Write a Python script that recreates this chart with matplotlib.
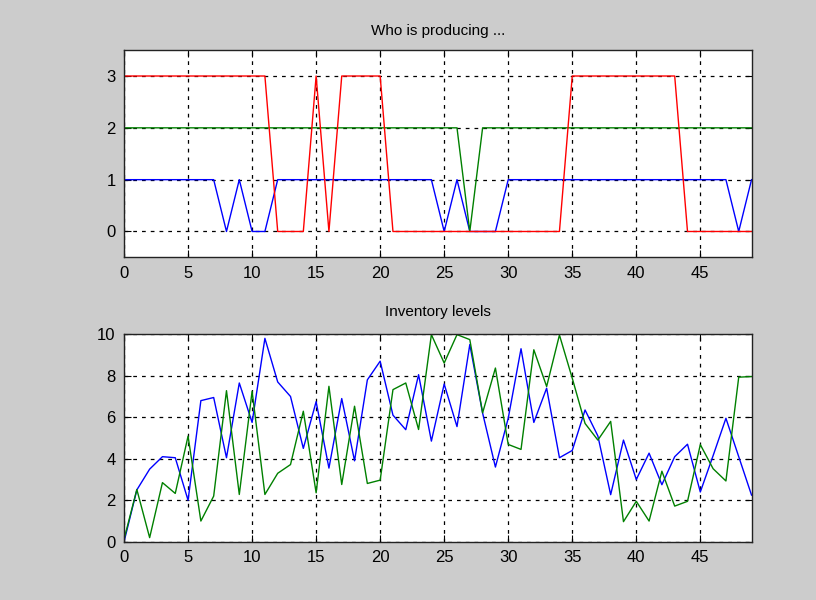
import matplotlib
matplotlib.use('Agg')
import matplotlib.pyplot as plt
import numpy as np

t = np.arange(50)

# who is producing (0 = nobody, 1/2/3 = machine id)
prod1 = [1,1,1,1,1,1,1,1,0,1, 0,0,1,1,1,1,1,1,1,1, 1,1,1,1,1,0,1,0,0,0,
         1,1,1,1,1,1,1,1,1,1, 1,1,1,1,1,1,1,1,0,1]
prod2 = [2]*27 + [0] + [2]*22
prod3 = [3]*12 + [0,0,0,3,0,3,3,3,3] + [0]*14 + [3]*9 + [0]*6

# inventory levels
inv1 = [0,2.5,3.5,4.1,4.05,2.0,6.8,6.95,4.05,7.65,
        5.75,9.8,7.7,7.0,4.5,6.75,3.55,6.9,3.9,7.8,
        8.7,6.1,5.4,8.05,4.85,7.6,5.55,9.5,6.2,3.6,
        5.95,9.3,5.75,7.4,4.05,4.4,6.35,5.1,2.27,4.9,
        3.0,4.27,2.75,4.1,4.7,2.4,4.15,5.95,4.1,2.25]
inv2 = [0.12,2.52,0.2,2.85,2.33,5.09,1.0,2.2,7.28,2.28,
        7.25,2.28,3.3,3.72,6.29,2.36,7.49,2.76,6.53,2.81,
        2.97,7.33,7.65,5.41,9.98,8.61,9.98,9.74,6.21,8.37,
        4.69,4.45,9.25,7.48,9.96,7.88,5.7,4.9,5.8,0.97,
        1.95,1.0,3.4,1.72,1.95,4.68,3.52,2.93,7.93,7.96]

blue = '#0000ff'
green = '#008000'
red = '#ff0000'

plt.rcParams['font.family'] = ['Liberation Sans', 'DejaVu Sans']

fig = plt.figure(figsize=(8.16, 6.0), dpi=100, facecolor='#cccccc')
ax1 = fig.add_axes([0.152, 0.571, 0.769, 0.3455])
ax2 = fig.add_axes([0.152, 0.097, 0.769, 0.346])

ax1.plot(t, prod1, color=blue, lw=1)
ax1.plot(t, prod2, color=green, lw=1)
ax1.plot(t, prod3, color=red, lw=1)
ax1.set_xlim(0, 49)
ax1.set_ylim(-0.5, 3.5)
ax1.set_yticks([0, 1, 2, 3])
ax1.set_title('Who is producing ...', fontsize=11, pad=11)

ax2.plot(t, inv1, color=blue, lw=1)
ax2.plot(t, inv2, color=green, lw=1)
ax2.set_xlim(0, 49)
ax2.set_ylim(0, 10)
ax2.set_yticks([0, 2, 4, 6, 8, 10])
ax2.set_title('Inventory levels', fontsize=11, pad=13)

for ax in (ax1, ax2):
    ax.set_facecolor('white')
    ax.set_xticks(range(0, 50, 5))
    ax.grid(True, color='black', linestyle=(0, (3, 4)), linewidth=0.9)
    ax.tick_params(direction='in', top=True, right=True, length=5,
                   labelsize=12, pad=6, width=0.8)
    for s in ax.spines.values():
        s.set_linewidth(1.0)
        s.set_color('#222222')

fig.savefig('out.png', dpi=100, facecolor=fig.get_facecolor())
